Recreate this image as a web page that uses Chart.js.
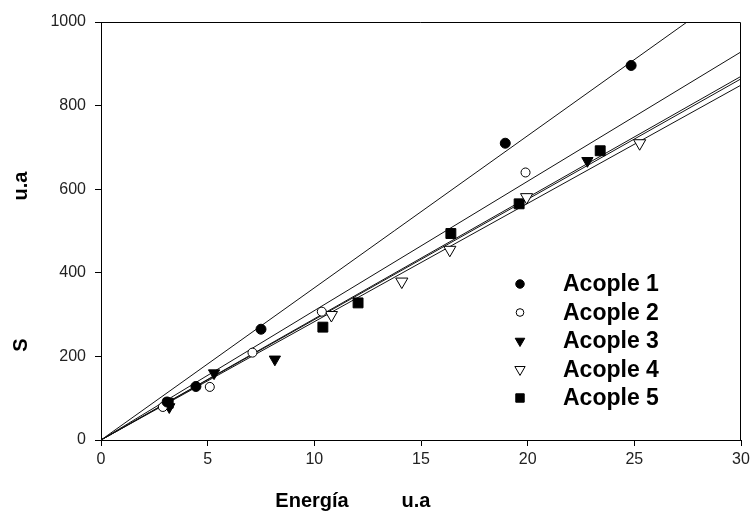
<!DOCTYPE html>
<html>
<head>
<meta charset="utf-8">
<title>S frente a Energía</title>
<style>
  html, body { margin: 0; padding: 0; background: #fff; }
  canvas { display: block; }
</style>
</head>
<body>
<canvas id="myChart" width="750" height="513"></canvas>
<script src="https://cdn.jsdelivr.net/npm/chart.js"></script>
<script>
// Puntos medidos de cada acople: [energía, S]
var acople1 = [[3.1, 91], [4.45, 128], [7.5, 265], [18.95, 710], [24.85, 896]];
var acople2 = [[2.9, 79], [5.1, 127], [7.1, 209], [10.35, 307], [19.9, 640]];
var acople3 = [[3.2, 79], [5.3, 160], [8.15, 193], [22.8, 668]];
var acople4 = [[10.8, 299], [14.1, 379], [16.35, 455], [19.95, 581], [25.25, 710]];
var acople5 = [[3.15, 88], [10.4, 270], [12.05, 328], [16.4, 494], [19.6, 565], [23.4, 692]];

var nombres = ['Acople 1', 'Acople 2', 'Acople 3', 'Acople 4', 'Acople 5'];
// pendiente de la recta de ajuste S = m * E de cada acople
var pendientes = [36.4, 30.95, 28.8, 28.3, 29.0];

var ticksX = [0, 5, 10, 15, 20, 25, 30];
var ticksY = [0, 200, 400, 600, 800, 1000];

var series = [acople1, acople2, acople3, acople4, acople5];
var fuente = '"Liberation Sans", Arial, Helvetica, sans-serif';

// marcador de cada serie
var marcas = [
  { pointStyle: 'circle',   radius: 5,   rotation: 0,   relleno: '#000' },
  { pointStyle: 'circle',   radius: 4.5, rotation: 0,   relleno: '#fff' },
  { pointStyle: 'triangle', radius: 6.5, rotation: 180, relleno: '#000' },
  { pointStyle: 'triangle', radius: 7,   rotation: 180, relleno: '#fff' },
  { pointStyle: 'rect',     radius: 7,   rotation: 0,   relleno: '#000' }
];

var datasets = [];
series.forEach(function (serie, i) {
  datasets.push({
    label: nombres[i],
    data: serie.map(function (p) { return { x: p[0], y: p[1] }; }),
    showLine: false,
    pointStyle: marcas[i].pointStyle,
    pointRadius: marcas[i].radius,
    pointRotation: marcas[i].rotation,
    pointBackgroundColor: marcas[i].relleno,
    pointBorderColor: '#000',
    pointBorderWidth: 1,
    order: 1
  });
  datasets.push({
    label: 'ajuste',
    data: [{ x: 0, y: 0 }, { x: 30, y: 30 * pendientes[i] }],
    showLine: true,
    fill: false,
    borderColor: '#111',
    borderWidth: 1,
    pointRadius: 0,
    order: 2
  });
});

// borde superior y derecho del area de dibujo
var marco = {
  id: 'marco',
  afterDraw: function (chart) {
    var a = chart.chartArea, ctx = chart.ctx;
    ctx.save();
    ctx.strokeStyle = '#000';
    ctx.lineWidth = 1;
    ctx.beginPath();
    ctx.moveTo(a.left, a.top + 0.5);
    ctx.lineTo(a.right - 0.5, a.top + 0.5);
    ctx.lineTo(a.right - 0.5, a.bottom);
    ctx.stroke();
    ctx.restore();
  }
};

// titulos de los ejes
var titulos = {
  id: 'titulos',
  afterDraw: function (chart) {
    var ctx = chart.ctx;
    ctx.save();
    ctx.fillStyle = '#000';
    ctx.font = 'bold 20px ' + fuente;
    ctx.textAlign = 'center';
    ctx.textBaseline = 'alphabetic';
    ctx.fillText('Energía', 312, 507);
    ctx.fillText('u.a', 416, 507);
    ctx.translate(27, 0);
    ctx.rotate(-Math.PI / 2);
    ctx.fillText('S', -345, 0);
    ctx.fillText('u.a', -186, 0);
    ctx.restore();
  }
};

// leyenda dentro del grafico
var leyenda = {
  id: 'leyenda',
  afterDraw: function (chart) {
    var ctx = chart.ctx;
    ctx.save();
    ctx.font = 'bold 23px ' + fuente;
    ctx.textAlign = 'left';
    ctx.textBaseline = 'middle';
    nombres.forEach(function (nombre, i) {
      var y = 284 + i * 28.5;
      ctx.fillStyle = marcas[i].relleno;
      ctx.strokeStyle = '#000';
      ctx.lineWidth = 1;
      Chart.helpers.drawPoint(ctx, {
        pointStyle: marcas[i].pointStyle,
        radius: marcas[i].radius * 0.85,
        rotation: marcas[i].rotation,
        borderWidth: 1
      }, 520, y);
      ctx.fillStyle = '#000';
      ctx.fillText(nombre, 563, y + 1);
    });
    ctx.restore();
  }
};

var grafico = new Chart(document.getElementById('myChart'), {
  type: 'scatter',
  data: { datasets: datasets },
  options: {
    responsive: false,
    animation: false,
    events: [],
    layout: { padding: { top: 22, right: 0, left: 0, bottom: 0 } },
    plugins: {
      legend: { display: false },
      tooltip: { enabled: false }
    },
    scales: {
      x: {
        type: 'linear',
        min: 0,
        max: 30,
        afterBuildTicks: function (s) {
          s.ticks = ticksX.map(function (v) { return { value: v }; });
        },
        afterFit: function (s) {
          s.height = 73;
          s.paddingLeft = 0;
          s.paddingRight = 9;
        },
        grid: { drawOnChartArea: false, drawTicks: true, tickLength: 6, color: '#000' },
        border: { color: '#000', width: 1 },
        ticks: {
          font: { family: fuente, size: 16 }, color: '#222', padding: 4, maxRotation: 0,
          callback: function (v) { return String(v); }
        }
      },
      y: {
        type: 'linear',
        min: 0,
        max: 1000,
        afterBuildTicks: function (s) {
          s.ticks = ticksY.map(function (v) { return { value: v }; });
        },
        afterFit: function (s) { s.width = 101; },
        grid: { drawOnChartArea: false, drawTicks: true, tickLength: 6, color: '#000' },
        border: { color: '#000', width: 1 },
        ticks: {
          font: { family: fuente, size: 16 }, color: '#222', padding: 9,
          callback: function (v) { return String(v); }
        }
      }
    }
  },
  plugins: [marco, titulos, leyenda]
});
</script>
</body>
</html>
